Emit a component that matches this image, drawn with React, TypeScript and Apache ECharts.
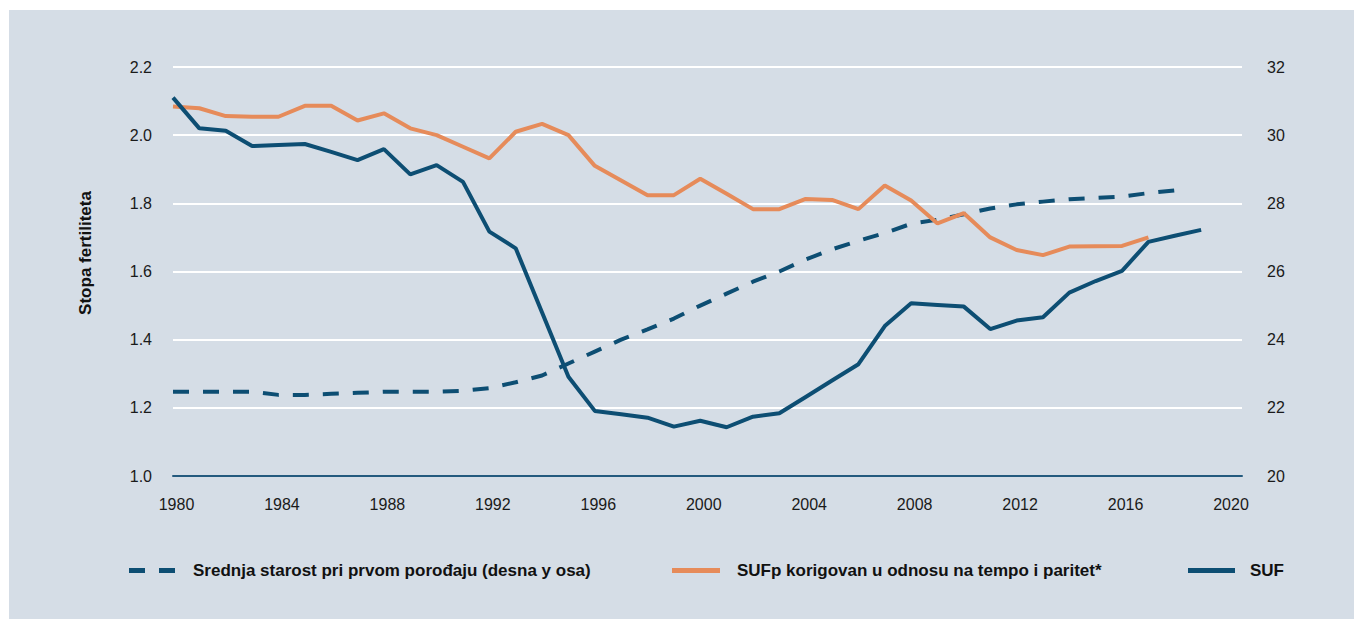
import React, { useEffect, useRef } from "react";
import * as echarts from "echarts";

const sufYears = [1980,1981,1982,1983,1984,1985,1986,1987,1988,1989,1990,1991,1992,1993,1994,1995,1996,1997,1998,1999,2000,2001,2002,2003,2004,2005,2006,2007,2008,2009,2010,2011,2012,2013,2014,2015,2016,2017,2018,2019];
const sufValues = [2.110,2.020,2.013,1.968,1.971,1.974,1.951,1.927,1.959,1.885,1.912,1.863,1.717,1.668,1.480,1.291,1.191,1.181,1.171,1.145,1.162,1.143,1.174,1.184,1.232,1.280,1.328,1.440,1.507,1.502,1.497,1.431,1.456,1.466,1.538,1.572,1.602,1.687,1.705,1.722];

const sufpYears = [1980,1981,1982,1983,1984,1985,1986,1987,1988,1989,1990,1991,1992,1993,1994,1995,1996,1997,1998,1999,2000,2001,2002,2003,2004,2005,2006,2007,2008,2009,2010,2011,2012,2013,2014,2015,2016,2017];
const sufpValues = [2.084,2.079,2.056,2.054,2.054,2.086,2.086,2.043,2.064,2.020,2.000,1.966,1.932,2.010,2.033,2.000,1.910,1.867,1.824,1.824,1.872,1.828,1.783,1.783,1.813,1.810,1.783,1.852,1.808,1.741,1.771,1.700,1.663,1.648,1.673,1.674,1.675,1.700];

const ageYears = [1980,1981,1982,1983,1984,1985,1986,1987,1988,1989,1990,1991,1992,1993,1994,1995,1996,1997,1998,1999,2000,2001,2002,2003,2004,2005,2006,2007,2008,2009,2010,2011,2012,2013,2014,2015,2016,2017,2018];
const ageValues = [22.47,22.47,22.47,22.47,22.38,22.38,22.41,22.44,22.47,22.47,22.47,22.50,22.58,22.75,22.95,23.30,23.65,24.00,24.30,24.62,25.00,25.35,25.70,26.00,26.35,26.65,26.90,27.13,27.40,27.52,27.68,27.85,27.97,28.05,28.12,28.16,28.20,28.30,28.38];

const nameAge = "Srednja starost pri prvom porođaju (desna y osa)";
const nameSufp = "SUFp korigovan u odnosu na tempo i paritet*";
const nameSuf = "SUF";
const yTitle = "Stopa fertiliteta";

const BLUE = "#0d4e73";
const ORANGE = "#e68b5a";
const BG = "#d5dde6";

const zip = (xs: number[], ys: number[]) => xs.map((x, i) => [x, ys[i]]);

export default function App() {
  const ref = useRef<HTMLDivElement>(null);
  useEffect(() => {
    if (!ref.current) return;
    const chart = echarts.init(ref.current, null, { renderer: "svg" });
    const legendText = {
      fontFamily: "'Liberation Sans', Arial, sans-serif",
      fontWeight: "bold" as const,
      fontSize: 17,
      color: "#111",
    };
    const legendBase = {
      top: 562,
      padding: 0,
      itemHeight: 5,
      symbolKeepAspect: false,
    };
    chart.setOption({
      animation: false,
      grid: { left: 173, right: 112, top: 67, bottom: 143 },
      xAxis: {
        type: "value",
        min: 1980,
        max: 2020.55,
        interval: 4,
        axisLine: { show: true, lineStyle: { color: "#245a7e", width: 2 } },
        axisTick: { show: false },
        splitLine: { show: false },
        axisLabel: {
          margin: 20,
          fontSize: 16,
          color: "#1a1a1a",
          fontFamily: "'Liberation Sans', Arial, sans-serif",
          padding: [0, 0, 0, 7],
          formatter: (v: number) => (v % 4 === 0 ? String(v) : ""),
        },
      },
      yAxis: [
        {
          type: "value",
          min: 1.0,
          max: 2.2,
          interval: 0.2,
          axisLine: { show: false },
          axisTick: { show: false },
          splitLine: { show: true, lineStyle: { color: "#ffffff", width: 2 } },
          axisLabel: {
            margin: 21,
            fontSize: 16,
            color: "#1a1a1a",
            fontFamily: "'Liberation Sans', Arial, sans-serif",
            formatter: (v: number) => v.toFixed(1),
          },
        },
        {
          type: "value",
          min: 20,
          max: 32,
          interval: 2,
          position: "right",
          axisLine: { show: false },
          axisTick: { show: false },
          splitLine: { show: false },
          axisLabel: {
            margin: 25,
            fontSize: 16,
            color: "#1a1a1a",
            fontFamily: "'Liberation Sans', Arial, sans-serif",
          },
        },
      ],
      legend: [
        {
          ...legendBase,
          data: [{ name: nameAge, icon: "path://M0,0h16v5h-16z M30,0h16v5h-16z" }],
          left: 129,
          itemWidth: 46,
          textStyle: { ...legendText, padding: [0, 0, 0, 13] },
        },
        {
          ...legendBase,
          data: [{ name: nameSufp, icon: "rect" }],
          left: 672,
          itemWidth: 48,
          textStyle: { ...legendText, padding: [0, 0, 0, 12] },
        },
        {
          ...legendBase,
          data: [{ name: nameSuf, icon: "rect" }],
          left: 1188,
          itemWidth: 47,
          textStyle: { ...legendText, padding: [0, 0, 0, 10] },
        },
      ],
      graphic: [
        {
          type: "text",
          x: 85,
          y: 253,
          rotation: Math.PI / 2,
          style: {
            text: yTitle,
            fontSize: 17,
            fontWeight: "bold",
            fontFamily: "'Liberation Sans', Arial, sans-serif",
            fill: "#111",
            align: "center",
            verticalAlign: "middle",
          },
        },
      ],
      series: [
        {
          name: nameAge,
          type: "line",
          yAxisIndex: 1,
          symbol: "none",
          data: zip(ageYears, ageValues),
          lineStyle: { color: BLUE, width: 4, type: [16, 14] },
          itemStyle: { color: BLUE },
          z: 3,
        },
        {
          name: nameSufp,
          type: "line",
          symbol: "none",
          data: zip(sufpYears, sufpValues),
          lineStyle: { color: ORANGE, width: 4 },
          itemStyle: { color: ORANGE },
          z: 4,
        },
        {
          name: nameSuf,
          type: "line",
          symbol: "none",
          data: zip(sufYears, sufValues),
          lineStyle: { color: BLUE, width: 4 },
          itemStyle: { color: BLUE },
          z: 5,
        },
      ],
    });
    return () => chart.dispose();
  }, []);
  return (
    <div style={{ position: "absolute", left: 0, top: 0, width: 1354, height: 619, background: "#ffffff" }}>
      <div style={{ position: "absolute", left: 9, top: 10, width: 1345, height: 609, background: BG }} />
      <div ref={ref} style={{ position: "absolute", left: 0, top: 0, width: 1354, height: 619 }} />
    </div>
  );
}
